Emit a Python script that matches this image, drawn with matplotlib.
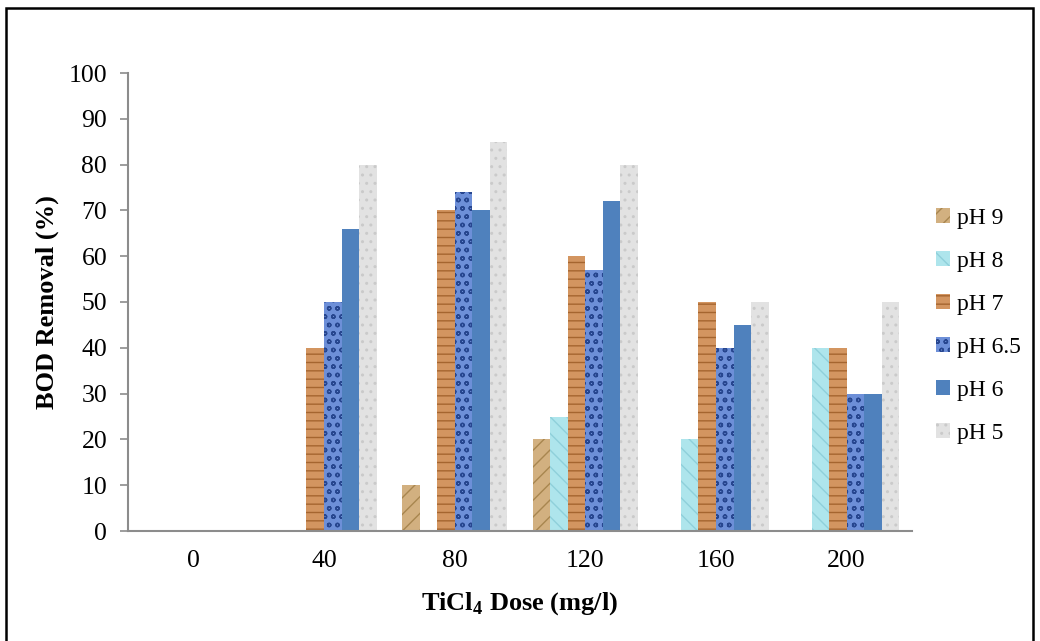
import numpy as np
import matplotlib
matplotlib.use("Agg")
import matplotlib.pyplot as plt
from matplotlib.patches import Rectangle

plt.rcParams['font.family'] = ['Liberation Serif', 'DejaVu Serif']
plt.rcParams['mathtext.fontset'] = 'custom'
plt.rcParams['mathtext.rm'] = 'Liberation Serif'
plt.rcParams['mathtext.bf'] = 'Liberation Serif:bold'
plt.rcParams['hatch.linewidth'] = 1.0

# TiCl4 dose categories and BOD removal (%) per pH
doses = ["0", "40", "80", "120", "160", "200"]
series_names = ["pH 9", "pH 8", "pH 7", "pH 6.5", "pH 6", "pH 5"]
ph9 = [0, 0, 10, 20, 0, 0]
ph8 = [0, 0, 0, 25, 20, 40]
ph7 = [0, 40, 70, 60, 50, 40]
ph65 = [0, 50, 74, 57, 40, 30]
ph6 = [0, 66, 70, 72, 45, 30]
ph5 = [0, 80, 85, 80, 50, 50]
values = [ph9, ph8, ph7, ph65, ph6, ph5]

# fill colour, hatch pattern, hatch colour for each series
styles = [
    ("#D2B080", "//", "#A8864F"),
    ("#AEE5EC", "\\\\", "#8FD0DA"),
    ("#D39560", "--", "#A5652F"),
    ("#6D8FD8", "oo", "#27468F"),
    ("#4F81BD", None, "#4F81BD"),
    ("#E2E2E2", "..", "#CACACA"),
]

fig = plt.figure(figsize=(10.40, 6.41), dpi=100)
ax = fig.add_axes([128 / 1040, 1 - 531 / 641, (912 - 128) / 1040, (531 - 73) / 641])

x = np.arange(len(doses))
n = len(series_names)
bw = 0.134
handles = []
for i, (name, vals, (fc, hatch, hc)) in enumerate(zip(series_names, values, styles)):
    offs = (i - (n - 1) / 2) * bw
    bars = ax.bar(x + offs, vals, width=bw, color=fc, edgecolor=hc,
                  linewidth=0, hatch=hatch, label=name, zorder=2)
    handles.append(bars)

ax.set_xlim(-0.5, len(doses) - 0.5)
ax.set_ylim(0, 100)
ax.set_yticks(np.arange(0, 101, 10))
ax.set_xticks(x)
ax.set_xticklabels(doses)

for side in ("top", "right"):
    ax.spines[side].set_visible(False)
for side in ("left", "bottom"):
    ax.spines[side].set_color("#8C8C8C")
    ax.spines[side].set_linewidth(1.5)

ax.tick_params(axis="y", length=6, width=1.2, color="#8C8C8C", pad=9, labelsize=18.5)
ax.tick_params(axis="x", length=0, pad=14, labelsize=18.5)

ax.set_ylabel("BOD Removal (%)", fontsize=19, fontweight="bold", labelpad=7)
ax.set_xlabel(r"TiCl$_\mathbf{4}$ Dose (mg/l)", fontsize=19, fontweight="bold", labelpad=13)

leg = ax.legend(handles=handles, loc="center left", bbox_to_anchor=(1.0035, 0.4476),
                frameon=False, fontsize=17, handlelength=0.6, handleheight=0.6,
                handletextpad=0.3, labelspacing=0.935, borderaxespad=0.5)

# outer frame around the chart
fig.patches.append(Rectangle((6 / 1040, -0.02), (1033 - 6) / 1040, 1.02 - 8 / 641,
                             transform=fig.transFigure, fill=False,
                             edgecolor="black", linewidth=1.8, clip_on=False))

fig.savefig("out.png", dpi=100)
